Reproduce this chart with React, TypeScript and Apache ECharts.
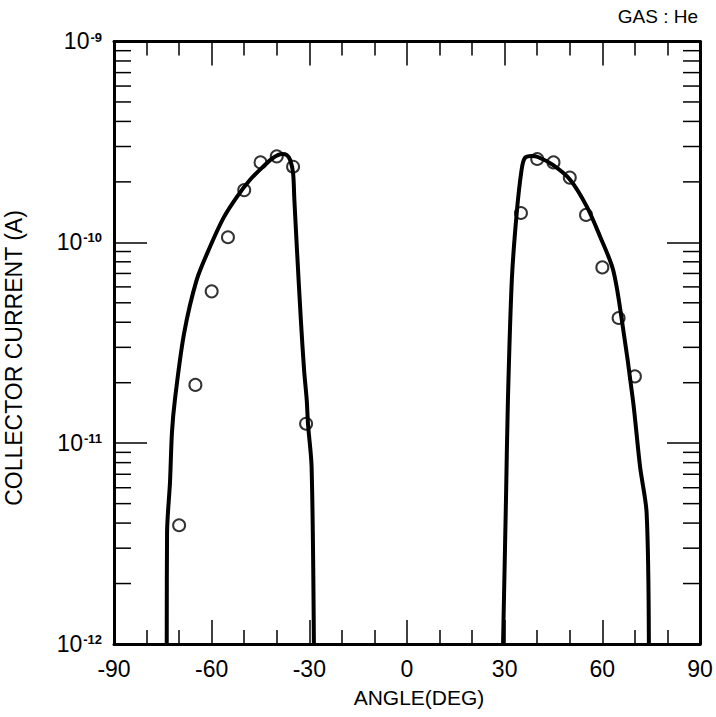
import React, { useEffect, useRef } from "react";
import * as echarts from "echarts";

// Fitted curve (left lobe)
const leftCurveX = [-73.8, -73.7, -72.8, -72.2, -71.3, -68.5, -64.6, -60.5, -56.4, -52.3, -48.2, -44.2, -41.2, -38.4, -36.9, -35.9, -35.0, -34.6, -33.8, -32.6, -31.6, -30.8, -30.4, -29.3, -28.6];
const leftCurveY = [1e-12, 3.6e-12, 6.4e-12, 1.13e-11, 1.64e-11, 3.5e-11, 6.5e-11, 9.5e-11, 1.32e-10, 1.68e-10, 2.05e-10, 2.38e-10, 2.63e-10, 2.75e-10, 2.72e-10, 2.57e-10, 2.22e-10, 1.63e-10, 9.2e-11, 4.1e-11, 2.3e-11, 1.64e-11, 1.24e-11, 7.6e-12, 1e-12];

// Fitted curve (right lobe)
const rightCurveX = [29.5, 30.4, 31.0, 32.2, 33.7, 35.2, 36.2, 38.3, 40.2, 44.8, 50.1, 55.2, 59.3, 63.3, 65.9, 69.4, 71.6, 73.6, 74.3];
const rightCurveY = [1e-12, 5.2e-12, 1.64e-11, 6.5e-11, 1.4e-10, 2.3e-10, 2.63e-10, 2.69e-10, 2.66e-10, 2.43e-10, 2.05e-10, 1.51e-10, 1.07e-10, 7.3e-11, 4.2e-11, 1.64e-11, 7.6e-12, 4.5e-12, 1e-12];

// Measured points
const leftPointsX = [-70, -65, -60, -55, -50, -45, -40, -35, -31];
const leftPointsY = [3.9e-12, 1.95e-11, 5.7e-11, 1.06e-10, 1.82e-10, 2.5e-10, 2.68e-10, 2.38e-10, 1.25e-11];
const rightPointsX = [35, 40, 45, 50, 55, 60, 65, 70];
const rightPointsY = [1.4e-10, 2.6e-10, 2.5e-10, 2.1e-10, 1.37e-10, 7.5e-11, 4.2e-11, 2.15e-11];

// Axis tick definitions
const xTickLabels = ["-90", "-60", "-30", "0", "30", "60", "90"];
const decades = [1e-12, 1e-11, 1e-10];
const minorMultipliers = [2, 3, 4, 5, 6, 7, 8, 9];

const FONT = "'Liberation Sans', Arial, sans-serif";

export default function App() {
  const ref = useRef<HTMLDivElement>(null);

  useEffect(() => {
    if (!ref.current) return;
    const chart = echarts.init(ref.current, null, { renderer: "svg" });

    const zip = (xs: number[], ys: number[]) => xs.map((x, i) => [x, ys[i]]);
    const minorTickValues: number[][] = [];
    decades.forEach((d) => minorMultipliers.forEach((m) => minorTickValues.push([-90, d * m])));

    const xAxisBase = {
      type: "value",
      min: -90,
      max: 90,
      interval: 30,
      splitLine: { show: false },
      axisLine: { show: true, onZero: false, lineStyle: { color: "#000", width: 3 } },
      axisTick: { show: true, inside: true, length: 24, lineStyle: { color: "#000", width: 1.5 } },
      minorTick: { show: true, splitNumber: 3, length: 14, lineStyle: { color: "#000", width: 1.5 } },
    };
    const yAxisBase = {
      type: "log",
      logBase: 10,
      min: 1e-12,
      max: 1e-9,
      splitLine: { show: false },
      axisLine: { show: true, onZero: false, lineStyle: { color: "#000", width: 3 } },
      axisTick: { show: true, inside: true, length: 33, lineStyle: { color: "#000", width: 1.5 } },
    };

    const curveStyle = { color: "#000", width: 4, join: "round", cap: "round" };

    chart.setOption({
      animation: false,
      backgroundColor: "#fff",
      grid: { left: 114, right: 16, top: 41.5, bottom: 73, containLabel: false },
      xAxis: [
        {
          ...xAxisBase,
          position: "bottom",
          axisLabel: {
            show: true,
            margin: 13,
            color: "#000",
            fontSize: 23,
            fontFamily: FONT,
            formatter: (v: number) => {
              const idx = Math.round((v + 90) / 30);
              return xTickLabels[idx] ?? "";
            },
          },
        },
        { ...xAxisBase, position: "top", axisLabel: { show: false } },
      ],
      yAxis: [
        {
          ...yAxisBase,
          position: "left",
          axisLabel: {
            show: true,
            margin: 12,
            color: "#000",
            formatter: (v: number) => `{b|10}{s|${Math.round(Math.log10(v))}}`,
            rich: {
              b: { fontSize: 23, lineHeight: 22, fontFamily: FONT, color: "#000", verticalAlign: "bottom" },
              s: { fontSize: 13, fontWeight: "bold", lineHeight: 13, padding: [0, 0, 20, 1], fontFamily: FONT, color: "#000", verticalAlign: "top" },
            },
          },
        },
        { ...yAxisBase, position: "right", axisLabel: { show: false } },
      ],
      graphic: [
        {
          type: "text",
          x: 698,
          y: 16,
          style: { text: "GAS : He", fontSize: 19, fontFamily: FONT, fill: "#000", align: "right", verticalAlign: "middle" },
        },
        {
          type: "text",
          x: 419,
          y: 697,
          style: { text: "ANGLE(DEG)", fontSize: 21, fontFamily: FONT, fill: "#000", align: "center", verticalAlign: "middle" },
        },
        {
          type: "text",
          x: 14,
          y: 358,
          rotation: Math.PI / 2,
          style: { text: "COLLECTOR CURRENT (A)", fontSize: 23, fontFamily: FONT, fill: "#000", align: "center", verticalAlign: "middle" },
        },
      ],
      series: [
        {
          type: "custom",
          xAxisIndex: 0,
          yAxisIndex: 0,
          silent: true,
          clip: false,
          data: minorTickValues,
          renderItem: (params: any, api: any) => {
            const v = api.value(1);
            const l = api.coord([-90, v]);
            const r = api.coord([90, v]);
            const style = { stroke: "#000", lineWidth: 1.5 };
            return {
              type: "group",
              children: [
                { type: "line", shape: { x1: l[0], y1: l[1], x2: l[0] + 17, y2: l[1] }, style },
                { type: "line", shape: { x1: r[0] - 17, y1: r[1], x2: r[0], y2: r[1] }, style },
              ],
            };
          },
        },
        {
          type: "line",
          data: zip(leftCurveX, leftCurveY),
          showSymbol: false,
          smooth: 0.3,
          lineStyle: curveStyle,
        },
        {
          type: "line",
          data: zip(rightCurveX, rightCurveY),
          showSymbol: false,
          smooth: 0.3,
          lineStyle: curveStyle,
        },
        {
          type: "scatter",
          data: zip(leftPointsX, leftPointsY),
          symbol: "circle",
          symbolSize: 12,
          itemStyle: { color: "rgba(0,0,0,0)", borderColor: "#000", borderWidth: 2 },
        },
        {
          type: "scatter",
          data: zip(rightPointsX, rightPointsY),
          symbol: "circle",
          symbolSize: 12,
          itemStyle: { color: "rgba(0,0,0,0)", borderColor: "#000", borderWidth: 2 },
        },
      ],
    });

    return () => chart.dispose();
  }, []);

  return (
    <div
      ref={ref}
      style={{ position: "fixed", left: 0, top: 0, width: 716, height: 717, background: "#fff" }}
    />
  );
}
